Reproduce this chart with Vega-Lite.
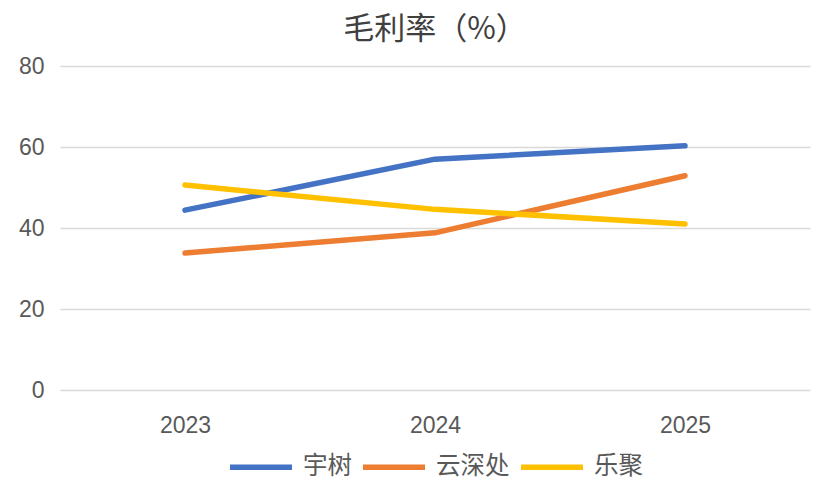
{
  "$schema": "https://vega.github.io/schema/vega-lite/v6.json",
  "width": 750,
  "height": 324,
  "padding": {"left": 18, "top": 14, "right": 10, "bottom": 10},
  "background": "white",
  "title": {
    "text": "毛利率（%）",
    "font": "Noto Sans CJK SC",
    "fontSize": 31,
    "fontWeight": "normal",
    "color": "#404040",
    "anchor": "middle",
    "offset": 9
  },
  "data": {
    "values": [
      {"year": "2023", "company": "宇树", "value": 44.4},
      {"year": "2024", "company": "宇树", "value": 57.0},
      {"year": "2025", "company": "宇树", "value": 60.3},
      {"year": "2023", "company": "云深处", "value": 33.8},
      {"year": "2024", "company": "云深处", "value": 38.8},
      {"year": "2025", "company": "云深处", "value": 52.9},
      {"year": "2023", "company": "乐聚", "value": 50.6},
      {"year": "2024", "company": "乐聚", "value": 44.6},
      {"year": "2025", "company": "乐聚", "value": 41.0}
    ]
  },
  "mark": {"type": "line", "strokeWidth": 5.5, "strokeCap": "round", "strokeJoin": "round"},
  "encoding": {
    "x": {
      "field": "year",
      "type": "ordinal",
      "scale": {"type": "point", "padding": 0.5},
      "axis": {
        "title": null,
        "labelAngle": 0,
        "domain": false,
        "ticks": false,
        "grid": false,
        "labelPadding": 24,
        "labelFontSize": 23,
        "labelFont": "Liberation Sans",
        "labelColor": "#595959"
      }
    },
    "y": {
      "field": "value",
      "type": "quantitative",
      "scale": {"domain": [0, 80]},
      "axis": {
        "title": null,
        "values": [0, 20, 40, 60, 80],
        "domain": false,
        "ticks": false,
        "gridColor": "#d9d9d9",
        "gridWidth": 1.5,
        "labelPadding": 16,
        "labelFontSize": 23,
        "labelFont": "Liberation Sans",
        "labelColor": "#595959"
      }
    },
    "color": {
      "field": "company",
      "type": "nominal",
      "scale": {"domain": ["宇树", "云深处", "乐聚"], "range": ["#4472C4", "#ED7D31", "#FFC000"]},
      "legend": {
        "title": null,
        "orient": "bottom",
        "direction": "horizontal",
        "symbolType": "stroke",
        "symbolSize": 3844,
        "symbolStrokeWidth": 5.5,
        "labelFont": "Noto Sans CJK SC",
        "labelFontSize": 24.5,
        "labelColor": "#595959",
        "labelOffset": 8,
        "columnPadding": 0,
        "offset": -4
      }
    }
  },
  "config": {
    "view": {"stroke": null},
    "legend": {"layout": {"bottom": {"anchor": "middle"}}}
  }
}
